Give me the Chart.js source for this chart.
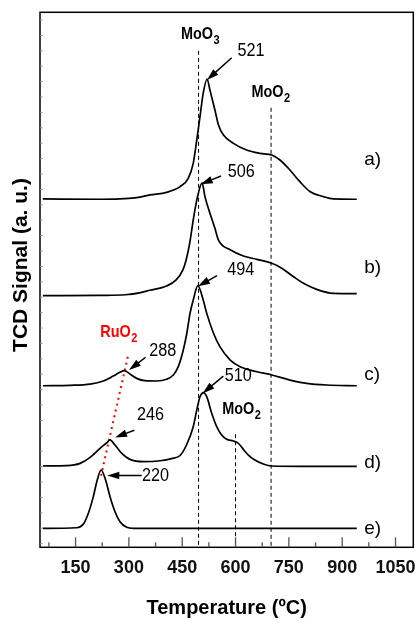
<!DOCTYPE html>
<html>
<head>
<meta charset="utf-8">
<script src="https://cdn.jsdelivr.net/npm/chart.js@4.4.1/dist/chart.umd.min.js"></script>
<style>
  html, body { margin: 0; padding: 0; background: #fff; }
</style>
</head>
<body>
<canvas id="tpr" width="419" height="623"></canvas>
<script>
// TPR curves, temperature (ºC) and signal (a. u., offset per sample)
const tempA = [58, 219, 300, 331, 359, 406, 444, 467, 481, 491, 500, 509, 520, 528, 542, 552, 566, 594, 631, 669, 702, 725, 753, 781, 810, 847, 875, 941];
const sigA  = [22.38, 22.36, 22.42, 22.5, 22.64, 22.81, 23.18, 23.72, 24.69, 26.21, 27.72, 29.24, 30.17, 29.45, 28.16, 27.18, 26.53, 25.99, 25.56, 25.34, 25.23, 24.91, 24.26, 23.5, 22.85, 22.53, 22.38, 22.36];

const tempB = [58, 219, 290, 330, 359, 406, 433, 452, 461, 471, 481, 491, 506, 514, 528, 542, 552, 585, 622, 660, 702, 730, 763, 791, 828, 875, 941];
const sigB  = [16.1, 16.12, 16.16, 16.28, 16.45, 16.73, 17.12, 17.77, 18.42, 19.5, 21.01, 22.3, 23.42, 22.53, 21.45, 20.47, 19.71, 19.08, 18.68, 18.46, 18.2, 17.88, 17.33, 16.9, 16.51, 16.25, 16.23];

const tempC = [58, 134, 191, 228, 256, 275, 287, 303, 322, 345, 378, 406, 425, 439, 453, 463, 472, 481, 494, 509, 519, 538, 556, 585, 613, 660, 702, 753, 800, 857, 941];
const sigC  = [10.25, 10.28, 10.36, 10.56, 10.88, 11.12, 11.23, 11.01, 10.73, 10.58, 10.56, 10.67, 10.95, 11.49, 12.57, 13.66, 14.95, 15.82, 16.75, 15.82, 14.95, 13.66, 12.79, 11.92, 11.49, 11.16, 10.95, 10.62, 10.41, 10.3, 10.25];

const tempD = [58, 125, 163, 191, 219, 238, 247, 261, 280, 303, 341, 388, 420, 444, 463, 481, 491, 500, 510, 519, 533, 547, 561, 575, 594, 608, 622, 636, 652, 678, 702, 781, 941];
const sigD  = [5.04, 5.06, 5.21, 5.6, 6.19, 6.55, 6.73, 6.4, 5.86, 5.47, 5.32, 5.38, 5.52, 5.72, 6.45, 7.59, 8.68, 9.54, 9.81, 9.54, 8.46, 7.59, 7.05, 6.77, 6.66, 6.51, 6.12, 5.75, 5.46, 5.17, 5.04, 5.02, 5.02];

const tempE = [58, 153, 172, 186, 200, 211, 222, 233, 247, 261, 275, 294, 313, 941];
const sigE  = [0.99, 1.03, 1.27, 1.97, 3.05, 4.13, 4.78, 4.24, 3.05, 2.07, 1.42, 1.06, 0.99, 0.99];

// reference lines (MoO3, MoO2, MoO2)
const refT   = [496, 700, 600];
const refTop = [32, 28.3, 7.1];

// RuO2 guide (red dotted)
const ruT = [297, 221.6];
const ruS = [12.13, 4.4];

// x axis
const xMajor = [150, 300, 450, 600, 750, 900, 1050];
const xMinor = [75, 225, 375, 525, 675, 825, 975];
const yTicks = Array.from({ length: 35 }, (_, i) => i);

// peak labels and arrows
const peakText = ['521', '506', '494', '288', '510', '246', '220'];
const peakT    = [643.5, 616.2, 614.8, 395.4, 607.8, 360.8, 374.9];
const peakS    = [32.0, 24.15, 17.75, 12.52, 10.9, 8.36, 4.4];
const arrFromT = [589.2, 559.1, 547.9, 347.3, 565.6, 315.3, 336.1];
const arrFromS = [31.55, 23.87, 17.4, 12.1, 10.88, 7.36, 4.42];
const arrToT   = [519.5, 502.0, 494.4, 300.4, 507.7, 261.0, 239.3];
const arrToS   = [30.1, 23.33, 16.71, 11.27, 9.76, 6.89, 4.43];

// phase labels (main text, subscript)
const phaseMain = ['MoO', 'MoO', 'MoO', 'RuO'];
const phaseSub  = ['3', '2', '2', '2'];
const phaseT    = [491.6, 690, 607.8, 262.4];
const phaseS    = [33.1, 29.3, 8.74, 13.74];
const phaseColor = ['#000', '#000', '#000', '#ff0000'];

// sample labels
const sampleText = ['a)', 'b)', 'c)', 'd)', 'e)'];
const sampleS    = [24.91, 17.9, 10.98, 5.27, 0.98];
const sampleT    = 962;

const pts = (xs, ys) => xs.map((x, i) => ({ x: x, y: ys[i] }));

const curve = (xs, ys) => ({
  data: pts(xs, ys),
  showLine: true,
  borderColor: '#000',
  borderWidth: 1.7,
  pointRadius: 0,
  cubicInterpolationMode: 'monotone',
  fill: false
});

const datasets = [
  curve(tempA, sigA), curve(tempB, sigB), curve(tempC, sigC), curve(tempD, sigD), curve(tempE, sigE)
];
refT.forEach((t, i) => {
  datasets.push({
    data: [{ x: t, y: refTop[i] }, { x: t, y: -0.24 }],
    showLine: true, borderColor: '#000', borderWidth: 1, borderDash: [4, 3], pointRadius: 0
  });
});
datasets.push({
  data: pts(ruT, ruS),
  showLine: true, borderColor: '#ff0000', borderWidth: 2, borderDash: [2, 4], pointRadius: 0
});

const FONT = '"Liberation Sans", Arial, sans-serif';

function drawText(ctx, txt, x, y, size, weight, color, sx, align) {
  ctx.save();
  ctx.font = weight + ' ' + size + 'px ' + FONT;
  ctx.fillStyle = color;
  ctx.textBaseline = 'middle';
  ctx.textAlign = align || 'center';
  ctx.translate(x, y);
  ctx.scale(sx, 1);
  ctx.fillText(txt, 0, 0);
  ctx.restore();
}

function arrow(ctx, x1, y1, x2, y2) {
  const a = Math.atan2(y2 - y1, x2 - x1);
  const len = 12, half = 3.8;
  const c = Math.cos(a), s = Math.sin(a);
  ctx.beginPath();
  ctx.moveTo(x1, y1);
  ctx.lineTo(x2 - c * len * 0.8, y2 - s * len * 0.8);
  ctx.stroke();
  ctx.beginPath();
  ctx.moveTo(x2, y2);
  ctx.lineTo(x2 - c * len + s * half, y2 - s * len - c * half);
  ctx.lineTo(x2 - c * len - s * half, y2 - s * len + c * half);
  ctx.closePath();
  ctx.fill();
}

const decor = {
  id: 'decor',
  afterDraw(chart) {
    const ctx = chart.ctx;
    const area = chart.chartArea;
    const xs = chart.scales.x, ys = chart.scales.y;

    // frame
    ctx.save();
    ctx.strokeStyle = '#000';
    ctx.lineWidth = 1.5;
    ctx.strokeRect(area.left, area.top, area.right - area.left, area.bottom - area.top);

    // inward ticks on bottom axis
    ctx.strokeStyle = '#555';
    ctx.lineWidth = 1.3;
    xMajor.forEach(v => {
      const x = xs.getPixelForValue(v);
      ctx.beginPath(); ctx.moveTo(x, area.bottom); ctx.lineTo(x, area.bottom - 10); ctx.stroke();
    });
    xMinor.forEach(v => {
      const x = xs.getPixelForValue(v);
      ctx.beginPath(); ctx.moveTo(x, area.bottom); ctx.lineTo(x, area.bottom - 5); ctx.stroke();
    });
    // small ticks on the left axis
    ctx.strokeStyle = '#888';
    ctx.lineWidth = 1;
    yTicks.forEach(v => {
      const y = ys.getPixelForValue(v);
      ctx.beginPath(); ctx.moveTo(area.left, y); ctx.lineTo(area.left + 2.5, y); ctx.stroke();
    });

    // arrows
    ctx.strokeStyle = '#000';
    ctx.fillStyle = '#000';
    ctx.lineWidth = 1.5;
    arrFromT.forEach((t, i) => {
      arrow(ctx, xs.getPixelForValue(t), ys.getPixelForValue(arrFromS[i]),
        xs.getPixelForValue(arrToT[i]), ys.getPixelForValue(arrToS[i]));
    });
    ctx.restore();

    // peak labels
    peakText.forEach((txt, i) => {
      drawText(ctx, txt, xs.getPixelForValue(peakT[i]), ys.getPixelForValue(peakS[i]), 18, 'normal', '#000', 0.9);
    });

    // phase labels with subscripts
    phaseMain.forEach((txt, i) => {
      const cx = xs.getPixelForValue(phaseT[i]);
      const cy = ys.getPixelForValue(phaseS[i]);
      ctx.save();
      ctx.font = 'bold 17px ' + FONT;
      const w = ctx.measureText(txt).width * 0.85;
      ctx.restore();
      drawText(ctx, txt, cx - w / 2, cy, 17, 'bold', phaseColor[i], 0.85, 'left');
      drawText(ctx, phaseSub[i], cx + w / 2 + 0.5, cy + 6.5, 13, 'bold', phaseColor[i], 0.85, 'left');
    });

    // sample labels
    sampleText.forEach((txt, i) => {
      drawText(ctx, txt, xs.getPixelForValue(sampleT), ys.getPixelForValue(sampleS[i]), 19, 'normal', '#000', 1, 'left');
    });

    // axis titles
    ctx.save();
    ctx.font = 'bold 21px ' + FONT;
    ctx.fillStyle = '#000';
    ctx.textAlign = 'center';
    ctx.textBaseline = 'middle';
    ctx.translate(21, 265);
    ctx.rotate(-Math.PI / 2);
    ctx.fillText('TCD Signal (a. u.)', 0, 0);
    ctx.restore();
    drawText(ctx, 'Temperature (ºC)', (area.left + area.right) / 2, 608, 20, 'bold', '#000', 1);
  }
};

new Chart(document.getElementById('tpr'), {
  type: 'scatter',
  data: { datasets: datasets },
  plugins: [decor],
  options: {
    responsive: false,
    animation: false,
    devicePixelRatio: 1,
    layout: { padding: { left: 0, right: 5.7, top: 12.3, bottom: 0 } },
    plugins: { legend: { display: false }, tooltip: { enabled: false } },
    scales: {
      x: {
        type: 'linear',
        min: 50,
        max: 1100,
        grid: { display: false, drawTicks: false },
        border: { display: false },
        afterBuildTicks(scale) { scale.ticks = xMajor.map(v => ({ value: v })); },
        afterFit(scale) {
          scale.height = 75.7;
          scale.paddingLeft = 0;
          scale.paddingRight = 0;
        },
        ticks: {
          padding: 10,
          color: '#111',
          maxRotation: 0,
          autoSkip: false,
          callback: v => String(v),
          font: { family: FONT, size: 18, weight: 'bold' }
        }
      },
      y: {
        type: 'linear',
        min: -0.24,
        max: 34.5,
        grid: { display: false, drawTicks: false },
        border: { display: false },
        ticks: { display: false },
        afterFit(scale) { scale.width = 40; }
      }
    }
  }
});
</script>
</body>
</html>
